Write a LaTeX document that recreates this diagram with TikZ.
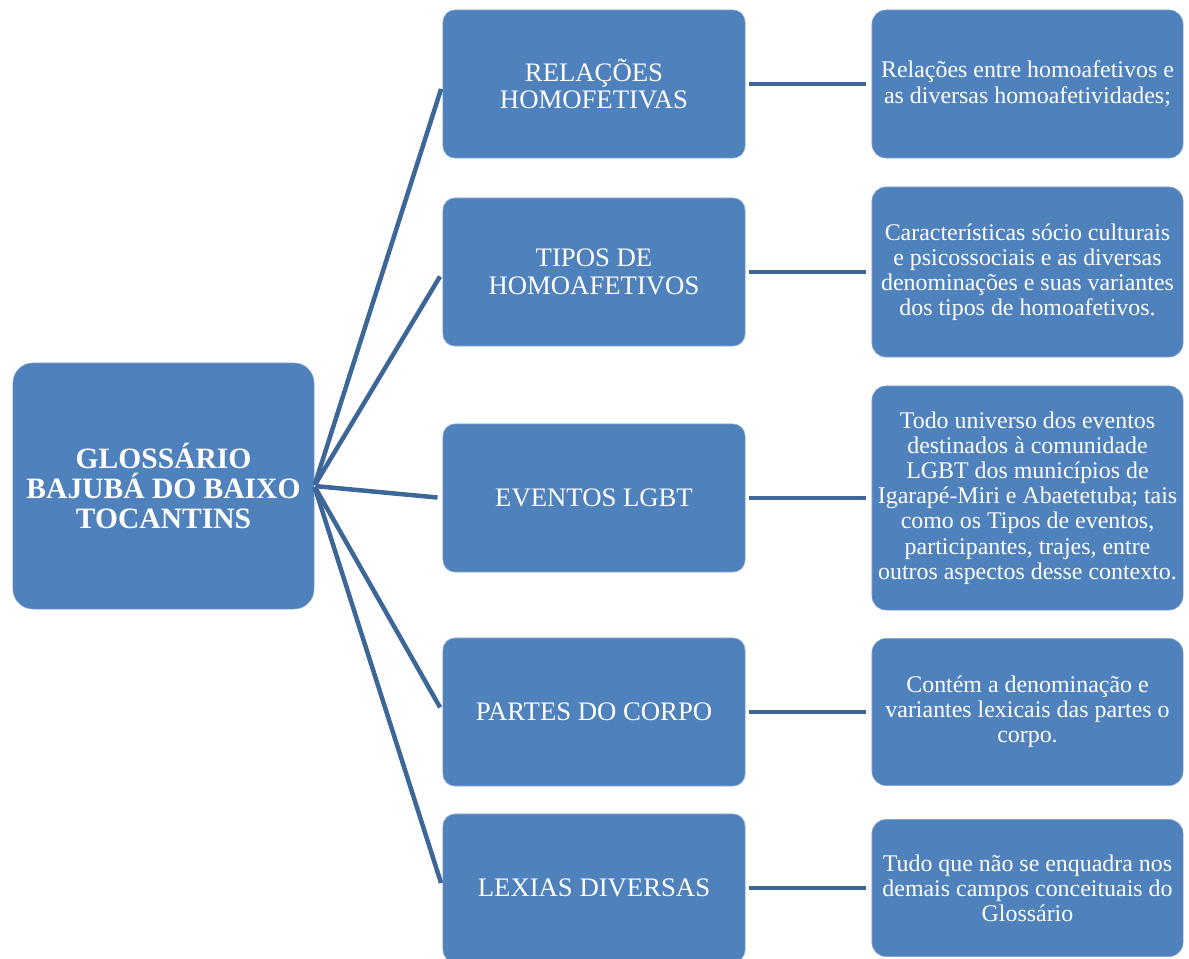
\documentclass[tikz,border=0pt]{standalone}
\usepackage{fontspec}
\setmainfont{Liberation Serif}
\usepackage{tikz}
\usetikzlibrary{positioning,calc}
\definecolor{boxblue}{RGB}{79,129,189}
\definecolor{lineblue}{RGB}{61,103,153}
\tikzset{
    rootbox/.style={
        rectangle,
        rounded corners=0.5cm,
        fill=boxblue, draw=boxblue!70!white, line width=0.4pt,
        text=white,
        minimum width=7.525cm,
        minimum height=6.15cm,
        align=center,
        font={\fontsize{21pt}{21.5pt}\selectfont\bfseries}
    },
    topicbox/.style={
        rectangle,
        rounded corners=0.3cm,
        fill=boxblue, draw=boxblue!70!white, line width=0.4pt,
        text=white,
        minimum width=7.55cm,
        minimum height=3.7cm,
        align=center,
        font={\fontsize{19pt}{19.5pt}\selectfont}
    },
    notebox/.style={
        rectangle,
        rounded corners=0.35cm,
        fill=boxblue, draw=boxblue!70!white, line width=0.4pt,
        text=white,
        minimum width=7.775cm,
        align=center,
        inner sep=0pt,
        font={\fontsize{17pt}{17.9pt}\selectfont}
    },
    fan/.style={draw=lineblue, line width=3.2pt, shorten >=0.13cm, shorten <=0.03cm},
    link/.style={draw=lineblue, line width=3.2pt, shorten <=0.08cm, shorten >=0.15cm},
}

\begin{document}
\begin{tikzpicture}[x=0.025cm, y=-0.025cm]
\useasboundingbox (0,0) rectangle (1189,959);

\node (root) at (163.5,486) [rootbox] {GLOSSÁRIO\\BAJUBÁ DO BAIXO\\TOCANTINS};

\node (rel) at (594,84) [topicbox] {RELAÇÕES\\HOMOFETIVAS};
\node (tip) at (594,272) [topicbox] {TIPOS DE\\HOMOAFETIVOS};
\node (evt) at (594,498) [topicbox] {EVENTOS LGBT};
\node (cor) at (594,712) [topicbox] {PARTES DO CORPO};
\node (lex) at (594,888) [topicbox] {LEXIAS DIVERSAS};

\node (relnote) at (1027.5,84) [notebox, minimum height=3.7cm]
    {Relações entre homoafetivos e\\as diversas homoafetividades;};
\node (tipnote) at (1027.5,272) [notebox, minimum height=4.25cm]
    {Características sócio culturais\\e psicossociais e as diversas\\denominações e suas variantes\\dos tipos de homoafetivos.};
\node (evtnote) at (1027.5,498) [notebox, minimum height=5.6cm]
    {Todo universo dos eventos\\destinados à comunidade\\LGBT dos municípios de\\Igarapé-Miri e Abaetetuba; tais\\como os Tipos de eventos,\\participantes, trajes, entre\\outros aspectos desse contexto.};
\node (cornote) at (1027.5,712) [notebox, minimum height=3.675cm]
    {Contém a denominação e\\variantes lexicais das partes o\\corpo.};
\node (lexnote) at (1027.5,888) [notebox, minimum height=3.425cm]
    {Tudo que não se enquadra nos\\demais campos conceituais do\\Glossário};

% root to topics
\foreach \t in {rel,tip,evt,cor,lex}
    \draw[fan] (root.east) -- (\t.west);

% topics to notes
\draw[link] (rel.east) -- (relnote.west);
\draw[link] (tip.east) -- (tipnote.west);
\draw[link] (evt.east) -- (evtnote.west);
\draw[link] (cor.east) -- (cornote.west);
\draw[link] (lex.east) -- (lexnote.west);
\end{tikzpicture}
\end{document}
